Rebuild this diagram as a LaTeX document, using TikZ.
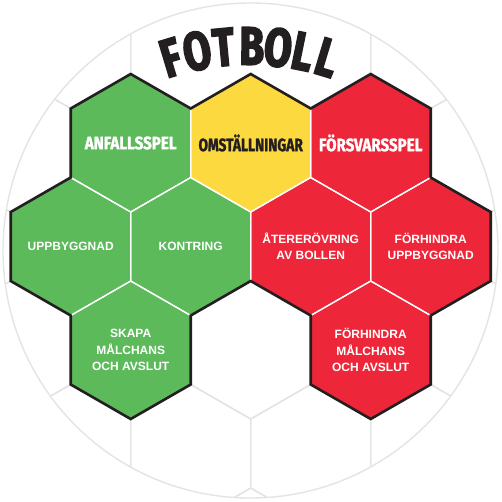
\documentclass[tikz,border=0pt]{standalone}
\usepackage{fontspec}
\setmainfont{Liberation Sans}
\newfontfamily\titlefont{Fira Sans}[FakeStretch=0.74, BoldFeatures={FakeBold=3}]
\newfontfamily\labelfont{Fira Sans}[FakeStretch=0.84, BoldFeatures={FakeBold=1.5}]
\definecolor{hexgreen}{HTML}{5CBA5B}
\definecolor{hexyellow}{HTML}{FDD940}
\definecolor{hexred}{HTML}{EE2639}
\definecolor{inkdark}{HTML}{231F20}
\definecolor{gridgray}{HTML}{E4E4E4}
\newcommand\hexpath[2]{(#1,#2-69) -- (#1+60,#2-34.5) -- (#1+60,#2+34.5) -- (#1,#2+69) -- (#1-60,#2+34.5) -- (#1-60,#2-34.5) -- cycle}
\tikzset{
  gridline/.style={draw=gridgray, line width=1.4pt},
  cellwhite/.style={draw=white, line width=1.3pt},
  outline/.style={draw=inkdark, line width=2.6pt, line join=miter},
  biglabel/.style={inner sep=0pt, font=\labelfont\bfseries\fontsize{18}{20}\selectfont},
  smalllabel/.style={inner sep=0pt, text=white, align=center, font=\bfseries\fontsize{12}{16.5}\selectfont},
  titleletter/.style={inner sep=0pt, text=inkdark, font=\titlefont\bfseries\fontsize{54}{54}\selectfont}
}
\begin{document}
\begin{tikzpicture}[x=1pt,y=-1pt]
\useasboundingbox[fill=white] (0,0) rectangle (502,501);
% background hex grid
\begin{scope}
\clip (250.5,250.5) circle (247.5);
\foreach \j in {0,...,6}{
  \pgfmathsetmacro\cy{-64+103.5*\j}
  \pgfmathsetmacro\xo{mod(\j,2)==0 ? 10.7 : -49.3}
  \foreach \k in {0,...,5}{
    \pgfmathsetmacro\cx{\xo+120*\k}
    \draw[gridline] \hexpath{\cx}{\cy};
  }
}
\end{scope}
\fill[white] (136,0) rectangle (365,72);
\draw[gridline] (250.5,250.5) circle (247.5);
% coloured cells
\fill[hexgreen] \hexpath{130.7}{143};
\fill[hexyellow] \hexpath{250.7}{143};
\fill[hexred] \hexpath{370.7}{143};
\fill[hexgreen] \hexpath{70.7}{246.5};
\fill[hexgreen] \hexpath{190.7}{246.5};
\fill[hexred] \hexpath{310.7}{246.5};
\fill[hexred] \hexpath{430.7}{246.5};
\fill[hexgreen] \hexpath{130.7}{350};
\fill[hexred] \hexpath{370.7}{350};
\foreach \cx/\cy in {130.7/143,250.7/143,370.7/143,70.7/246.5,190.7/246.5,310.7/246.5,430.7/246.5,130.7/350,370.7/350}
  \draw[cellwhite] \hexpath{\cx}{\cy};
% outer outline
\draw[outline] (130.7,74) -- (190.7,108.5) -- (250.7,74) -- (310.7,108.5) -- (370.7,74)
  -- (430.7,108.5) -- (430.7,177.5) -- (490.7,212) -- (490.7,281) -- (430.7,315.5)
  -- (430.7,384.5) -- (370.7,419) -- (310.7,384.5) -- (310.7,315.5) -- (250.7,281)
  -- (190.7,315.5) -- (190.7,384.5) -- (130.7,419) -- (70.7,384.5) -- (70.7,315.5)
  -- (10.7,281) -- (10.7,212) -- (70.7,177.5) -- (70.7,108.5) -- cycle;
% labels
\node[biglabel, text=white] (anf) at (130.7,143) {ANFALLSSPEL};
\node[biglabel, text=inkdark] (oms) at (250.7,143) {\scalebox{0.91}[1]{OMSTÄLLNINGAR}};
\node[biglabel, text=white] (fors) at (370.7,143) {FÖRSVARSSPEL};
\node[smalllabel] (upp) at (70.7,246.5) {UPPBYGGNAD};
\node[smalllabel] (kon) at (190.7,246.5) {KONTRING};
\node[smalllabel] (ater) at (310.7,246.5) {ÅTERERÖVRING\\AV BOLLEN};
\node[smalllabel] (fupp) at (430.7,246.5) {FÖRHINDRA\\UPPBYGGNAD};
\node[smalllabel] (skapa) at (130.7,350) {SKAPA\\MÅLCHANS\\OCH AVSLUT};
\node[smalllabel] (fmal) at (370.7,350) {FÖRHINDRA\\MÅLCHANS\\OCH AVSLUT};
% title
\foreach \ch/\a [count=\i] in {F/-16.8,O/-11.1,T/-5.4,B/0.6,O/6.2,L/11.5,L/16.8}
  \node[titleletter, rotate=-\a] (t\i) at ({249+270*sin(\a)},{316-270*cos(\a)}) {\ch};
\end{tikzpicture}
\end{document}
